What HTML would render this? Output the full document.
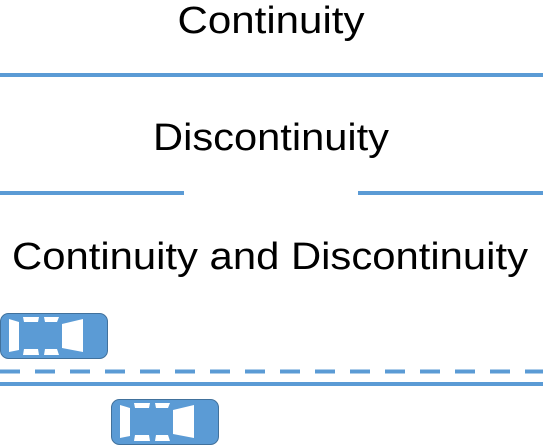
<!DOCTYPE html>
<html><head><style>html,body{margin:0;padding:0;background:#fff}</style></head><body>
<svg width="543" height="447" xmlns="http://www.w3.org/2000/svg" style="display:block">
<defs>
<g id="car">
<rect x="0.5" y="0.5" width="107" height="45" rx="8" fill="#5b9bd5" stroke="#41719c" stroke-width="1"/>
<polygon points="9,6 19,9 19,37 9,39" fill="#fff"/>
<polygon points="23,4 39,4 38,9 24,9" fill="#fff"/>
<polygon points="44,4 59,4 57,9 45,9" fill="#fff"/>
<polygon points="24,36 38,36 39,42 23,42" fill="#fff"/>
<polygon points="45,36 57,36 59,42 44,42" fill="#fff"/>
<polygon points="62,11 83,6 83,39 62,35" fill="#fff"/>
</g>
</defs>
<g font-family="'Liberation Sans', sans-serif" font-size="38" fill="#000" text-anchor="middle">
<text x="271" y="33" textLength="187" lengthAdjust="spacingAndGlyphs">Continuity</text>
<text x="271" y="150" textLength="236" lengthAdjust="spacingAndGlyphs">Discontinuity</text>
<text x="270" y="269" textLength="516" lengthAdjust="spacingAndGlyphs">Continuity and Discontinuity</text>
</g>
<rect x="0" y="73" width="543" height="4" fill="#5b9bd5"/>
<rect x="0" y="191" width="184" height="4" fill="#5b9bd5"/>
<rect x="358" y="191" width="185" height="4" fill="#5b9bd5"/>
<line x1="0" y1="371.5" x2="543" y2="371.5" stroke="#5b9bd5" stroke-width="4" stroke-dasharray="20 15"/>
<rect x="0" y="382" width="543" height="4" fill="#5b9bd5"/>
<use href="#car" x="0" y="313"/>
<use href="#car" x="111" y="399"/>
</svg>
</body></html>
